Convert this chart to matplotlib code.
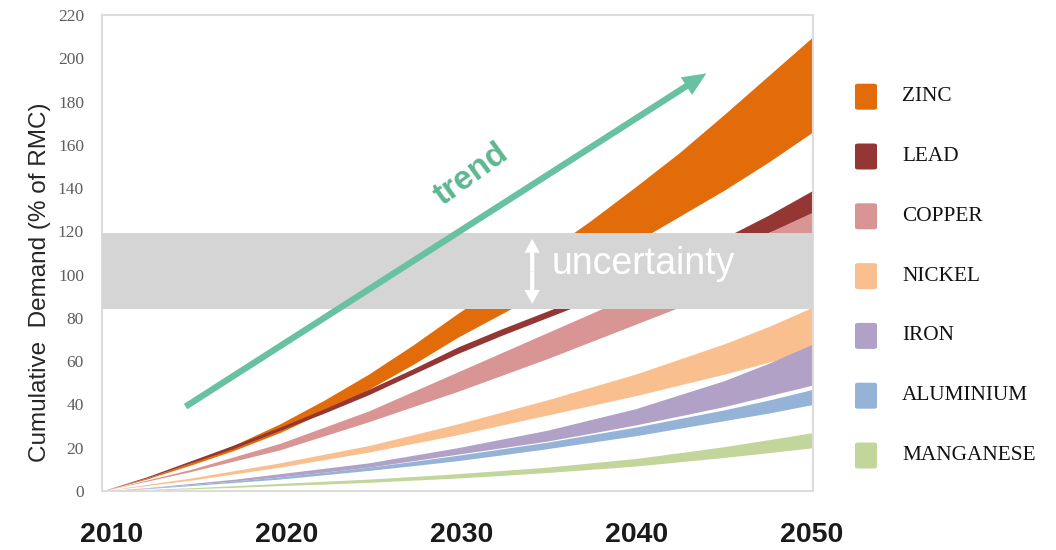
import matplotlib.pyplot as plt
from matplotlib.patches import FancyBboxPatch
from matplotlib.transforms import ScaledTranslation

# Cumulative demand bands (% of RMC), low / high edge every 2.5 years
years = [2010, 2012.5, 2015, 2017.5, 2020, 2022.5, 2025, 2027.5, 2030,
         2032.5, 2035, 2037.5, 2040, 2042.5, 2045, 2047.5, 2050]

zinc_lo = [0, 5.5, 12, 19, 27, 36.5, 47, 58.5, 71, 82, 93, 104, 115, 127, 139, 152, 166]
zinc_hi = [0, 6, 13, 21.5, 31, 42, 54, 67.5, 82, 96, 110.5, 125, 140.5, 156.5, 174, 192, 210]
lead_lo = [0, 6, 13, 20, 28, 36, 44.5, 54, 63.5, 72, 80, 88, 96, 104, 112, 119.5, 127]
lead_hi = [0, 6.5, 14, 21.5, 29.5, 38, 47, 56.5, 66.5, 75, 83, 91, 99.5, 108, 117, 127.5, 139]
copper_lo = [0, 4.5, 9, 14, 19, 25.5, 32, 39, 46, 53.5, 61, 69, 77, 85, 93, 101.5, 110]
copper_hi = [0, 5, 10, 16, 22, 29.5, 37, 46, 55, 64, 73, 82, 91, 100.5, 110, 119.5, 129]
nickel_lo = [0, 2.5, 5, 8, 11, 14.5, 18, 22, 26, 30.5, 35, 39.5, 44, 49, 54, 59.5, 65]
nickel_hi = [0, 3, 6, 9.5, 13, 17, 21, 26, 31, 36.5, 42, 48, 54, 61, 68, 76, 85]
iron_lo = [0, 1.3, 3, 4.7, 6.5, 8.7, 11, 14, 17, 20, 23, 26.7, 30.5, 34.7, 39, 44, 49]
iron_hi = [0, 1.5, 3.5, 5.5, 8, 10.5, 13, 16.5, 20, 24, 28, 33, 38, 44.5, 51, 59, 68]
alu_lo = [0, 1.1, 2.5, 4, 5.5, 7.5, 9.5, 11.7, 14, 16.7, 19.5, 22.5, 25.5, 29, 32.5, 36, 40]
alu_hi = [0, 1.3, 3, 4.7, 6.5, 8.7, 11, 13.7, 16.5, 19.5, 22.5, 26, 29.5, 33.5, 37.5, 42, 47]
mang_lo = [0, 0.5, 1, 1.7, 2.5, 3.2, 4, 5, 6, 7.2, 8.5, 10, 11.5, 13.5, 15.5, 17.7, 20]
mang_hi = [0, 0.7, 1.5, 2.5, 3.5, 4.5, 5.5, 6.7, 8, 9.5, 11, 13, 15, 17.7, 20.5, 23.7, 27]

names = ['ZINC', 'LEAD', 'COPPER', 'NICKEL', 'IRON', 'ALUMINIUM', 'MANGANESE']
lows = [zinc_lo, lead_lo, copper_lo, nickel_lo, iron_lo, alu_lo, mang_lo]
highs = [zinc_hi, lead_hi, copper_hi, nickel_hi, iron_hi, alu_hi, mang_hi]
colors = ['#e36c0a', '#943634', '#d99594', '#fabf8f', '#b2a1c7', '#95b3d7', '#c2d69b']

# critical range shown as a grey strip
unc_lo, unc_hi = 84, 119

GREEN = '#68c2a1'

fig = plt.figure(figsize=(10.56, 5.5), dpi=100, facecolor='white')
ax = fig.add_axes([0.0966, 0.1073, 0.6733, 0.8655])

for lo, hi, c in zip(lows, highs, colors):
    ax.fill_between(years, lo, hi, color=c, linewidth=0, zorder=2)

ax.axhspan(unc_lo, unc_hi, color='#d5d5d5', linewidth=0, zorder=3)

ax.set_xlim(2010, 2050)
ax.set_ylim(0, 220)
ax.set_xticks([2010, 2020, 2030, 2040, 2050])
ax.set_yticks(range(0, 221, 20))
ax.tick_params(length=0)
ax.tick_params(axis='x', pad=22, labelsize=20.5, labelcolor='#1a1a1a')
ax.tick_params(axis='y', pad=13, labelsize=12.5, labelcolor='#5e5e5e')
# year labels sit slightly right of their ticks toward the left end
for lab, dx in zip(ax.get_xticklabels(), [10, 7, 4, 1, -1]):
    lab.set_fontweight('bold')
    lab.set_family('Liberation Sans')
    lab.set_transform(lab.get_transform() +
                      ScaledTranslation(dx / 100, 0, fig.dpi_scale_trans))
for lab in ax.get_yticklabels():
    lab.set_family('Liberation Serif')
for sp in ax.spines.values():
    sp.set_color('#dcdcdc')
    sp.set_linewidth(1.5)

fig.text(0.038, 0.487, 'Cumulative  Demand (% of RMC)', rotation=90,
         ha='center', va='center', fontsize=17.5, color='#262626',
         family='Liberation Sans')

# trend arrow
ax.annotate('', xy=(2044.0, 193), xytext=(2014.7, 39),
            arrowprops=dict(facecolor=GREEN, edgecolor='none', width=4.6,
                            headwidth=15, headlength=17, shrink=0),
            zorder=6)
ax.text(2030.8, 146, 'trend', rotation=36, ha='center', va='center',
        fontsize=24, fontweight='bold', color='#5cb790',
        family='Liberation Sans', zorder=6)

# uncertainty marker, two heads drawn out from the middle
unc_x, unc_mid = 2034.2, 101.5
for tip in (116.5, 86.5):
    ax.annotate('', xy=(unc_x, tip), xytext=(unc_x, unc_mid),
                arrowprops=dict(facecolor='white', edgecolor='none', width=3,
                                headwidth=11, headlength=10, shrink=0),
                zorder=5)
ax.text(2035.3, 105, 'uncertainty', ha='left', va='center', fontsize=27,
        color='white', family='Liberation Sans', zorder=5)

# legend
for i, (name, c) in enumerate(zip(names, colors)):
    yc = 96.7 + i * 59.8
    fy = (550 - yc) / 550
    box = FancyBboxPatch((855 / 1056, fy - 13 / 550), 22 / 1056, 26 / 550,
                         boxstyle='round,pad=0,rounding_size=0.003',
                         transform=fig.transFigure, facecolor=c,
                         edgecolor='none')
    fig.add_artist(box)
    fig.text(902 / 1056, fy, name, ha='left', va='center', fontsize=15.3,
             color='#111111', family='Liberation Serif')

fig.savefig('out.png', dpi=100, facecolor='white')
